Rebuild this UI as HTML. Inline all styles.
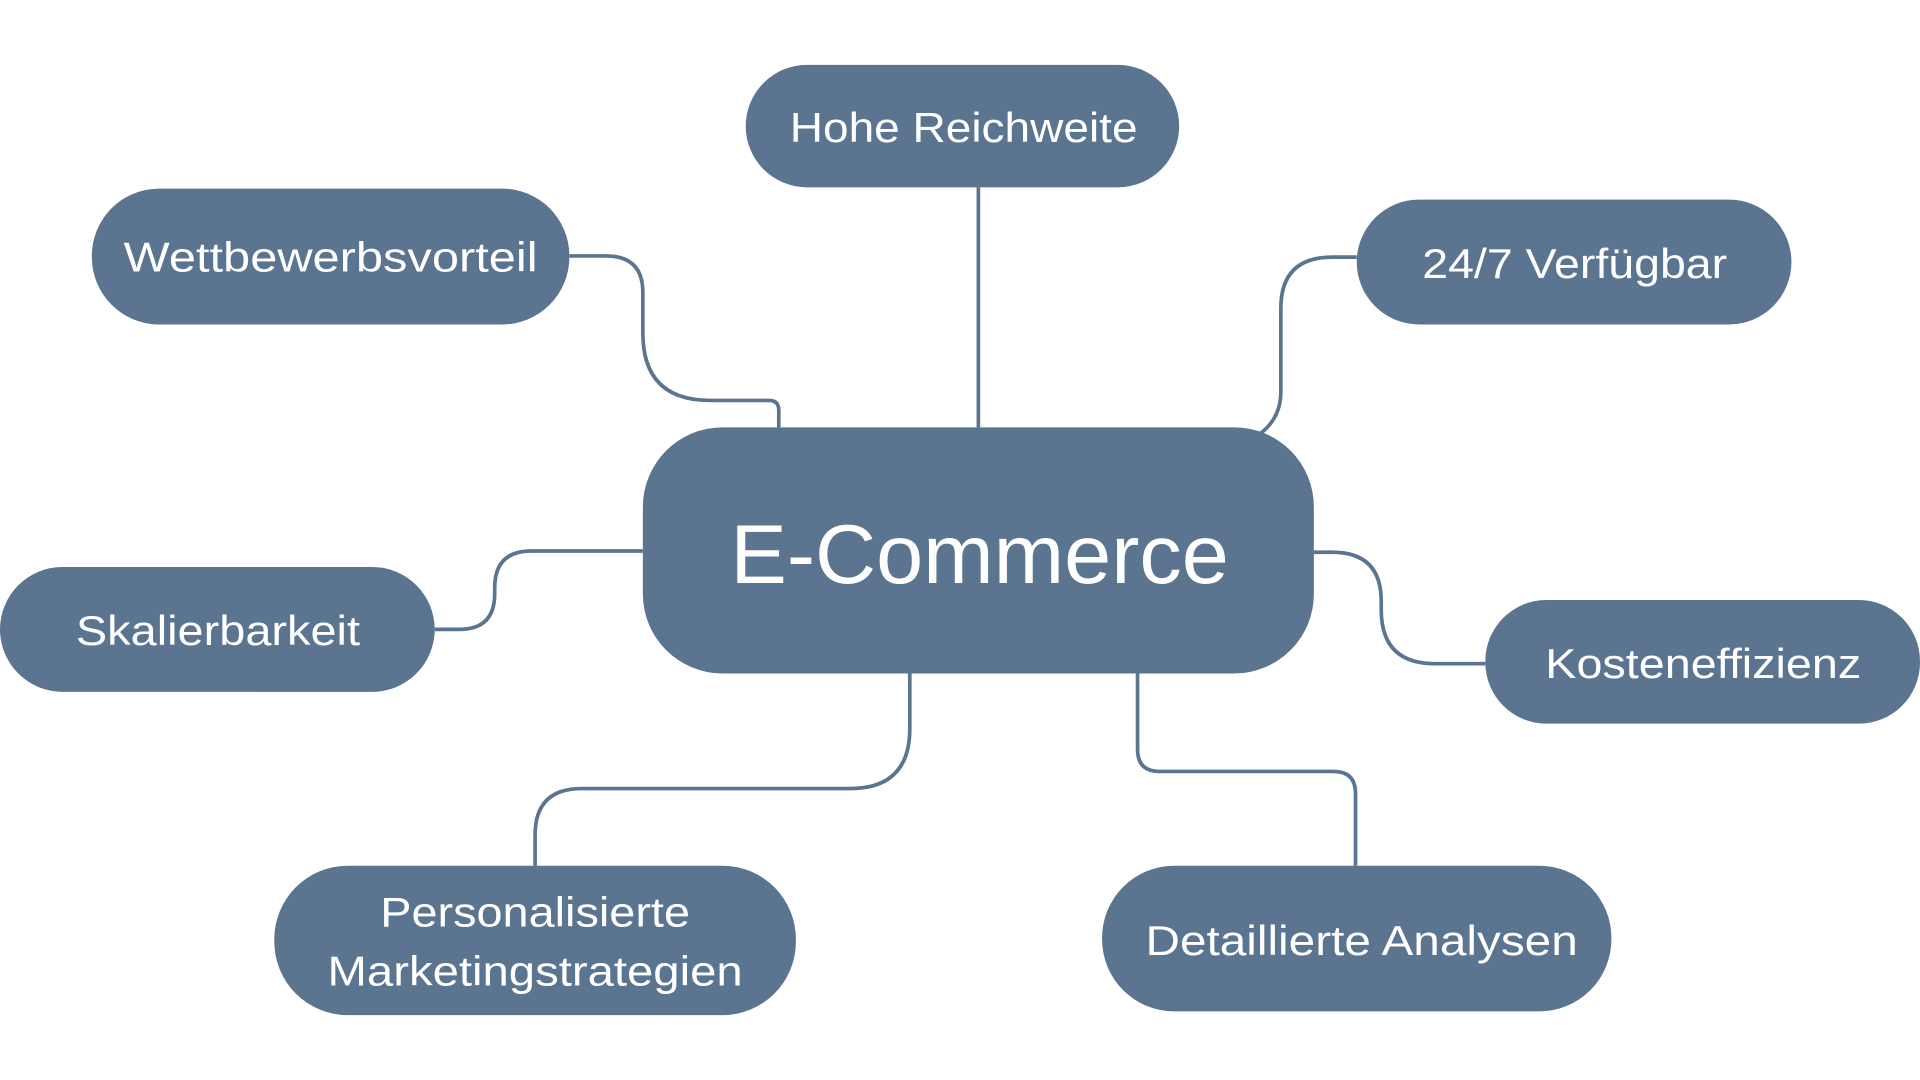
<!DOCTYPE html>
<html><head><meta charset="utf-8"><style>
html,body{margin:0;padding:0;background:#fff;}
svg{display:block;}
text{font-family:"Liberation Sans",sans-serif;fill:#fff;text-anchor:middle;dominant-baseline:central;}
</style></head><body>
<svg width="1920" height="1080" viewBox="0 0 1568 882" xmlns="http://www.w3.org/2000/svg">
<g fill="none" stroke="#5b7490" stroke-width="3">
<path d="M799,153 V349"/>
<path d="M465,209 H495 Q525,209 525,239 V272 Q525,327 580,327 H628 Q636,327 636,335 V349"/>
<path d="M1108,210 H1088 Q1046,210 1046,252 V320 Q1046,342 1028,355"/>
<path d="M355,514 H375 Q404,514 404,485 V480 Q404,450 434,450 H525"/>
<path d="M1073,451 H1088 Q1128,451 1128,491 V498 Q1128,542 1172,542 H1213"/>
<path d="M743,550 V595 Q743,644 694,644 H475 Q437,644 437,682 V707"/>
<path d="M929,550 V612 Q929,630 947,630 H1089 Q1107,630 1107,648 V707"/>
</g>
<g fill="#5b7490">
<rect x="609" y="53" width="354" height="100" rx="50"/>
<rect x="75" y="154" width="390" height="111" rx="55"/>
<rect x="1108" y="163" width="355" height="102" rx="51"/>
<rect x="525" y="349" width="548" height="201" rx="65"/>
<rect x="0" y="463" width="355" height="102" rx="51"/>
<rect x="1213" y="490" width="355" height="101" rx="50"/>
<rect x="224" y="707" width="426" height="122" rx="60"/>
<rect x="900" y="707" width="416" height="119" rx="59"/>
</g>
<g font-size="34">
<text x="787" y="104" textLength="284" lengthAdjust="spacingAndGlyphs">Hohe Reichweite</text>
<text x="270" y="210" textLength="338" lengthAdjust="spacingAndGlyphs">Wettbewerbsvorteil</text>
<text x="1286" y="215" textLength="249" lengthAdjust="spacingAndGlyphs">24/7 Verfügbar</text>
<text x="178" y="515" textLength="232" lengthAdjust="spacingAndGlyphs">Skalierbarkeit</text>
<text x="1391" y="542" textLength="258" lengthAdjust="spacingAndGlyphs">Kosteneffizienz</text>
<text x="437" y="745" textLength="253" lengthAdjust="spacingAndGlyphs">Personalisierte</text>
<text x="437" y="793" textLength="339" lengthAdjust="spacingAndGlyphs">Marketingstrategien</text>
<text x="1112" y="768" textLength="353" lengthAdjust="spacingAndGlyphs">Detaillierte Analysen</text>
</g>
<text x="800" y="453" font-size="68" textLength="407" lengthAdjust="spacingAndGlyphs">E-Commerce</text>
</svg>
</body></html>
